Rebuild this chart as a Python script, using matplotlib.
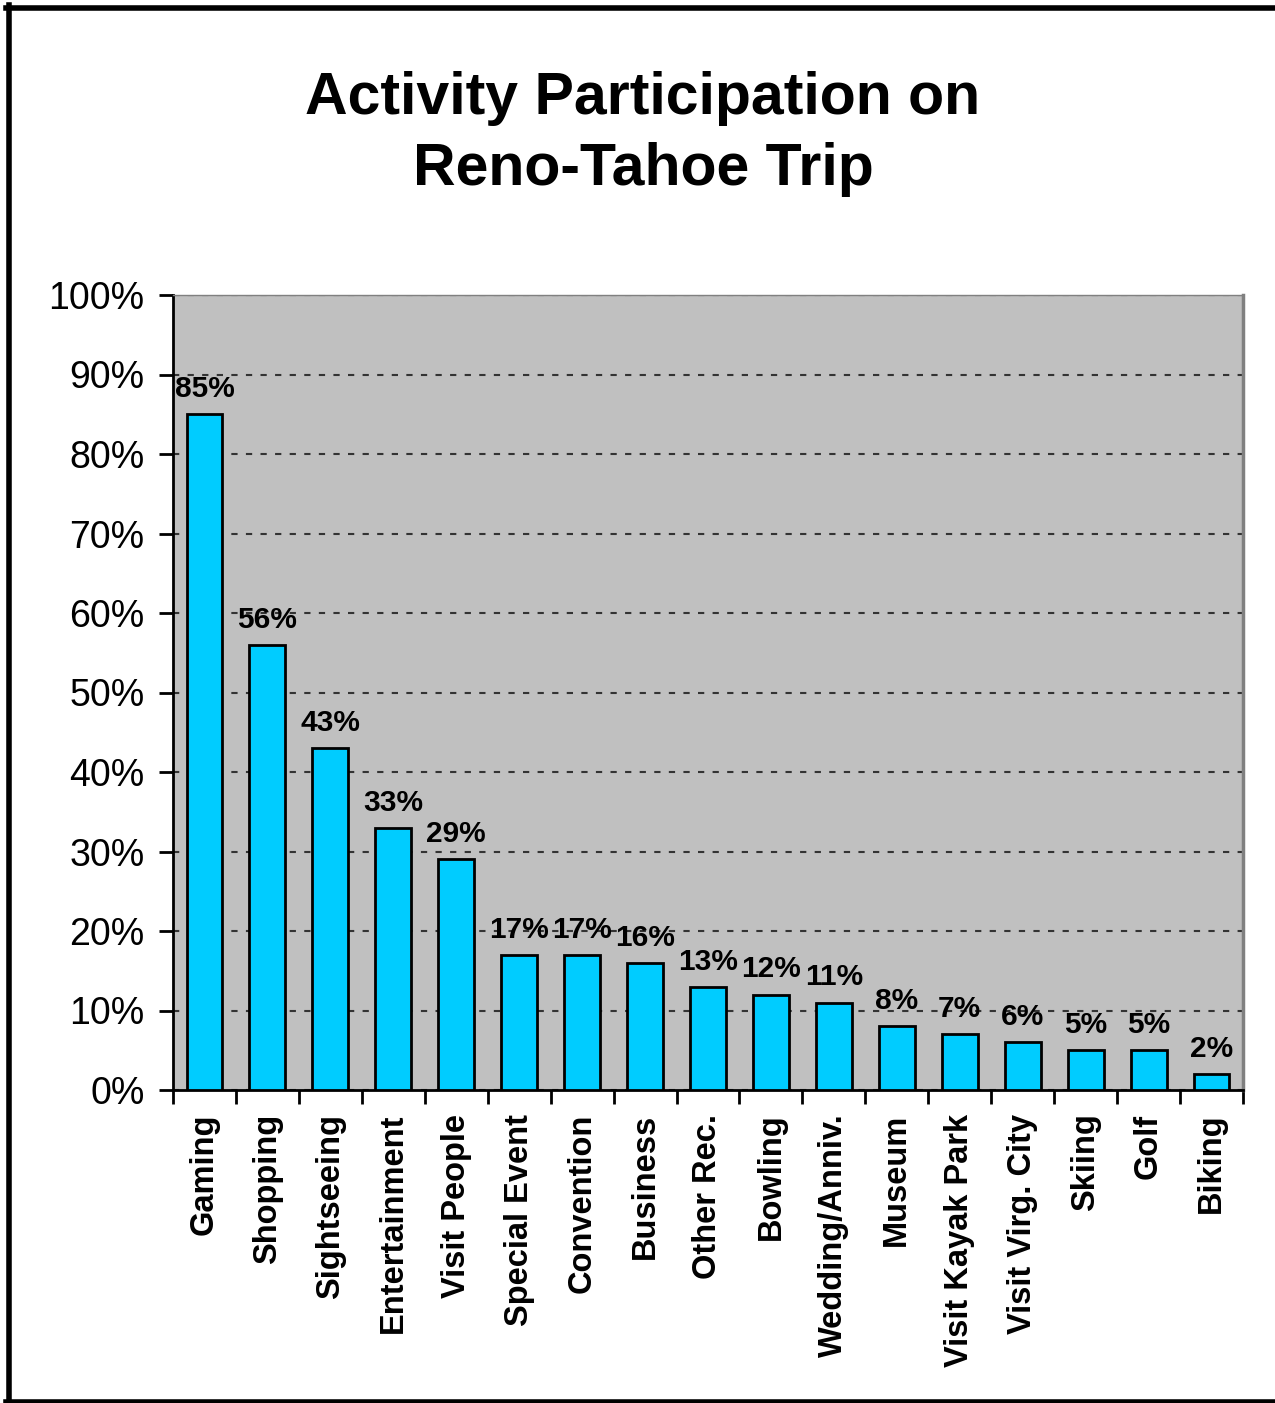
import matplotlib
matplotlib.use("Agg")
import matplotlib.pyplot as plt
from matplotlib.lines import Line2D
from matplotlib.ticker import FixedLocator, NullFormatter

plt.rcParams['font.family'] = ['Liberation Sans', 'DejaVu Sans']

categories = ["Gaming", "Shopping", "Sightseeing", "Entertainment", "Visit People",
              "Special Event", "Convention", "Business", "Other Rec.", "Bowling",
              "Wedding/Anniv.", "Museum", "Visit Kayak Park", "Visit Virg. City",
              "Skiing", "Golf", "Biking"]
values = [85, 56, 43, 33, 29, 17, 17, 16, 13, 12, 11, 8, 7, 6, 5, 5, 2]
yticks = [0, 10, 20, 30, 40, 50, 60, 70, 80, 90, 100]
ytick_labels = [f"{v}%" for v in yticks]
title = "Activity Participation on\nReno-Tahoe Trip"

W, H = 1275, 1403
fig = plt.figure(figsize=(W / 100, H / 100), dpi=100)
ax = fig.add_axes([173 / W, 1 - 1090 / H, (1243 - 173) / W, (1090 - 295) / H])
ax.set_facecolor('#C0C0C0')

x = list(range(len(categories)))
ax.bar(x, values, width=0.57, color='#00CCFF', edgecolor='black', linewidth=2, zorder=3)
ax.set_xlim(-0.5, len(categories) - 0.5)
ax.set_ylim(0, 100)

for xi, v in zip(x, values):
    ax.annotate(f"{v}%", (xi, v), xytext=(0, 8), textcoords='offset points',
                ha='center', va='bottom', fontsize=21.5, fontweight='bold', zorder=5)

ax.set_yticks(yticks)
ax.set_yticklabels(ytick_labels, fontsize=27)
ax.yaxis.grid(True, linestyle=(0, (3, 4)), color='#333333', linewidth=1.5, zorder=1)
ax.set_axisbelow(True)

ax.set_xticks(x)
ax.set_xticklabels(categories, rotation=90, fontsize=23.5, fontweight='bold')
ax.tick_params(axis='x', length=0, pad=17)
ax.xaxis.set_minor_locator(FixedLocator([i - 0.5 for i in range(len(categories) + 1)]))
ax.xaxis.set_minor_formatter(NullFormatter())
ax.tick_params(axis='x', which='minor', length=10, width=2, direction='out')
ax.tick_params(axis='y', length=10, width=2, direction='out', pad=10.5)

ax.spines['left'].set_linewidth(2)
ax.spines['bottom'].set_linewidth(2)
ax.spines['top'].set_color('#808080')
ax.spines['top'].set_linewidth(1)
ax.spines['right'].set_color('#808080')
ax.spines['right'].set_linewidth(2.5)

fig.text(643 / W, 1 - 134 / H, title, ha='center', va='center', fontsize=42.5,
         fontweight='bold', linespacing=1.36)

# figure border (left, top, bottom)
lw = 4
fig.add_artist(Line2D([8.5 / W, 8.5 / W], [0, 1 - 5 / H], transform=fig.transFigure, color='black', linewidth=lw))
fig.add_artist(Line2D([6 / W, 1], [1 - 7.5 / H, 1 - 7.5 / H], transform=fig.transFigure, color='black', linewidth=lw))
fig.add_artist(Line2D([6 / W, 1], [1 - 1401.5 / H, 1 - 1401.5 / H], transform=fig.transFigure, color='black', linewidth=lw))

fig.savefig("out.png", dpi=100)
